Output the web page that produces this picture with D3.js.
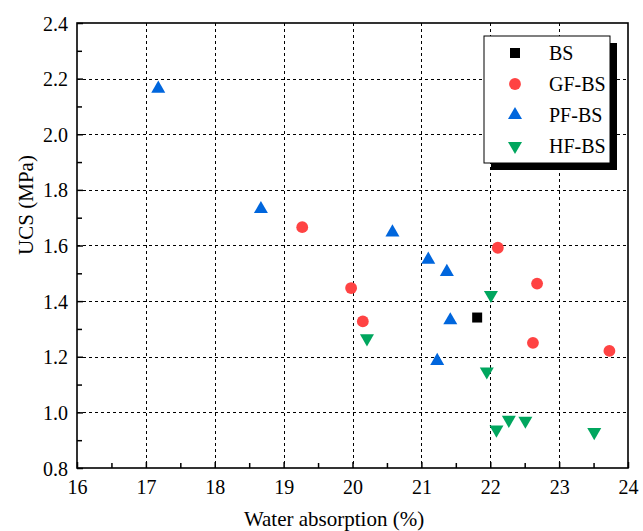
<!DOCTYPE html>
<html>
<head>
<meta charset="utf-8">
<script src="https://cdn.jsdelivr.net/npm/d3@7"></script>
<style>
  body { margin: 0; background: #fff; }
  svg text { font-family: "Liberation Serif", "DejaVu Serif", serif; fill: #000; }
</style>
</head>
<body>
<div id="chart"></div>
<script>
// series data: [water absorption %, UCS MPa]
const bsData = [[21.81, 1.341]];
const gfData = [[19.27, 1.666], [19.98, 1.447], [20.15, 1.327], [22.11, 1.592], [22.68, 1.463], [22.62, 1.250], [23.73, 1.221]];
const pfData = [[17.18, 2.164], [18.67, 1.731], [20.58, 1.647], [21.10, 1.549], [21.37, 1.505], [21.42, 1.331], [21.23, 1.185]];
const hfData = [[22.01, 1.422], [20.21, 1.266], [21.95, 1.147], [22.09, 0.938], [22.27, 0.973], [22.51, 0.970], [23.51, 0.929]];

const seriesNames = ["BS", "GF-BS", "PF-BS", "HF-BS"];
const xTicks = [16, 17, 18, 19, 20, 21, 22, 23, 24];
const yTicks = [0.8, 1.0, 1.2, 1.4, 1.6, 1.8, 2.0, 2.2, 2.4];

const margin = {top: 23, right: 15, bottom: 63, left: 77};
const W = 643, H = 531;
const width = W - margin.left - margin.right;
const height = H - margin.top - margin.bottom;

const svg = d3.select("#chart").append("svg")
    .attr("width", W).attr("height", H);
const g = svg.append("g")
    .attr("transform", "translate(" + margin.left + "," + margin.top + ")");

const x = d3.scaleLinear().domain([16, 24]).range([0, width]);
const y = d3.scaleLinear().domain([0.8, 2.4]).range([height, 0]);

// dashed grid
g.append("g").selectAll("line")
    .data(xTicks.slice(1, -1))
    .join("line")
    .attr("x1", d => Math.round(x(d)) + 0.5).attr("x2", d => Math.round(x(d)) + 0.5)
    .attr("y1", 0).attr("y2", height)
    .attr("stroke", "#000").attr("stroke-width", 1).attr("stroke-dasharray", "3,3");
g.append("g").selectAll("line")
    .data(yTicks.slice(1, -1))
    .join("line")
    .attr("y1", d => Math.round(y(d)) + 0.5).attr("y2", d => Math.round(y(d)) + 0.5)
    .attr("x1", 0).attr("x2", width)
    .attr("stroke", "#000").attr("stroke-width", 1).attr("stroke-dasharray", "3,3");

// axes with inward ticks
const xAxis = d3.axisBottom(x).tickValues(xTicks).tickSizeInner(-6).tickSizeOuter(0).tickPadding(12).tickFormat(d3.format("d"));
const yAxis = d3.axisLeft(y).tickValues(yTicks).tickSizeInner(-6).tickSizeOuter(0).tickPadding(9).tickFormat(d3.format(".1f"));
const xMinor = d3.axisBottom(x).tickValues(d3.range(16.5, 24, 1)).tickSize(-5).tickFormat("");
const yMinor = d3.axisLeft(y).tickValues(d3.range(0.9, 2.4, 0.2)).tickSize(-5).tickFormat("");

const gx = g.append("g").attr("transform", "translate(0," + height + ")").call(xAxis);
const gy = g.append("g").call(yAxis);
g.append("g").attr("transform", "translate(0," + height + ")").call(xMinor);
g.append("g").call(yMinor);

g.selectAll(".domain").remove();
g.selectAll(".tick line").attr("stroke", "#000").attr("stroke-width", 1.5);
gx.selectAll("text").style("font-size", "20px");
gy.selectAll("text").style("font-size", "20px").attr("dy", "0.35em");

// frame
g.append("rect")
    .attr("x", 0).attr("y", 0).attr("width", width).attr("height", height)
    .attr("fill", "none").attr("stroke", "#000").attr("stroke-width", 1.6);

// axis titles
svg.append("text")
    .attr("x", 334).attr("y", 526)
    .attr("text-anchor", "middle").style("font-size", "21px")
    .text("Water absorption (%)");
svg.append("text")
    .attr("transform", "translate(33,205) rotate(-90)")
    .attr("text-anchor", "middle").style("font-size", "21px")
    .text("UCS (MPa)");

// markers
const colors = {"BS": "#000000", "GF-BS": "#ff4343", "PF-BS": "#0066dd", "HF-BS": "#00a65e"};
const symSquare = d3.symbol().type(d3.symbolSquare).size(100);
const symCircle = d3.symbol().type(d3.symbolCircle).size(110);
const symTri = d3.symbol().type(d3.symbolTriangle).size(85);

function drawSeries(data, name, sym, rot) {
    g.append("g").selectAll("path")
        .data(data)
        .join("path")
        .attr("d", sym())
        .attr("fill", colors[name])
        .attr("transform", d => "translate(" + x(d[0]) + "," + y(d[1]) + ")" + (rot ? " rotate(180)" : ""));
}
drawSeries(bsData, "BS", symSquare, false);
drawSeries(gfData, "GF-BS", symCircle, false);
drawSeries(pfData, "PF-BS", symTri, false);
drawSeries(hfData, "HF-BS", symTri, true);

// legend with drop shadow
const lx = 484, ly = 36, lw = 126, lh = 127;
svg.append("rect").attr("x", lx + 7).attr("y", ly + 7).attr("width", lw).attr("height", lh).attr("fill", "#000");
svg.append("rect").attr("x", lx).attr("y", ly).attr("width", lw).attr("height", lh)
    .attr("fill", "#fff").attr("stroke", "#000").attr("stroke-width", 1);
const legendSyms = [symSquare, symCircle, symTri, symTri];
seriesNames.forEach((name, i) => {
    const ry = ly + 17 + i * 31;
    svg.append("path")
        .attr("d", legendSyms[i]())
        .attr("fill", colors[name])
        .attr("transform", "translate(515," + ry + ")" + (i === 3 ? " rotate(180)" : ""));
    svg.append("text")
        .attr("x", 549).attr("y", ry).attr("dy", "0.35em")
        .style("font-size", "20px")
        .text(name);
});
</script>
</body>
</html>
